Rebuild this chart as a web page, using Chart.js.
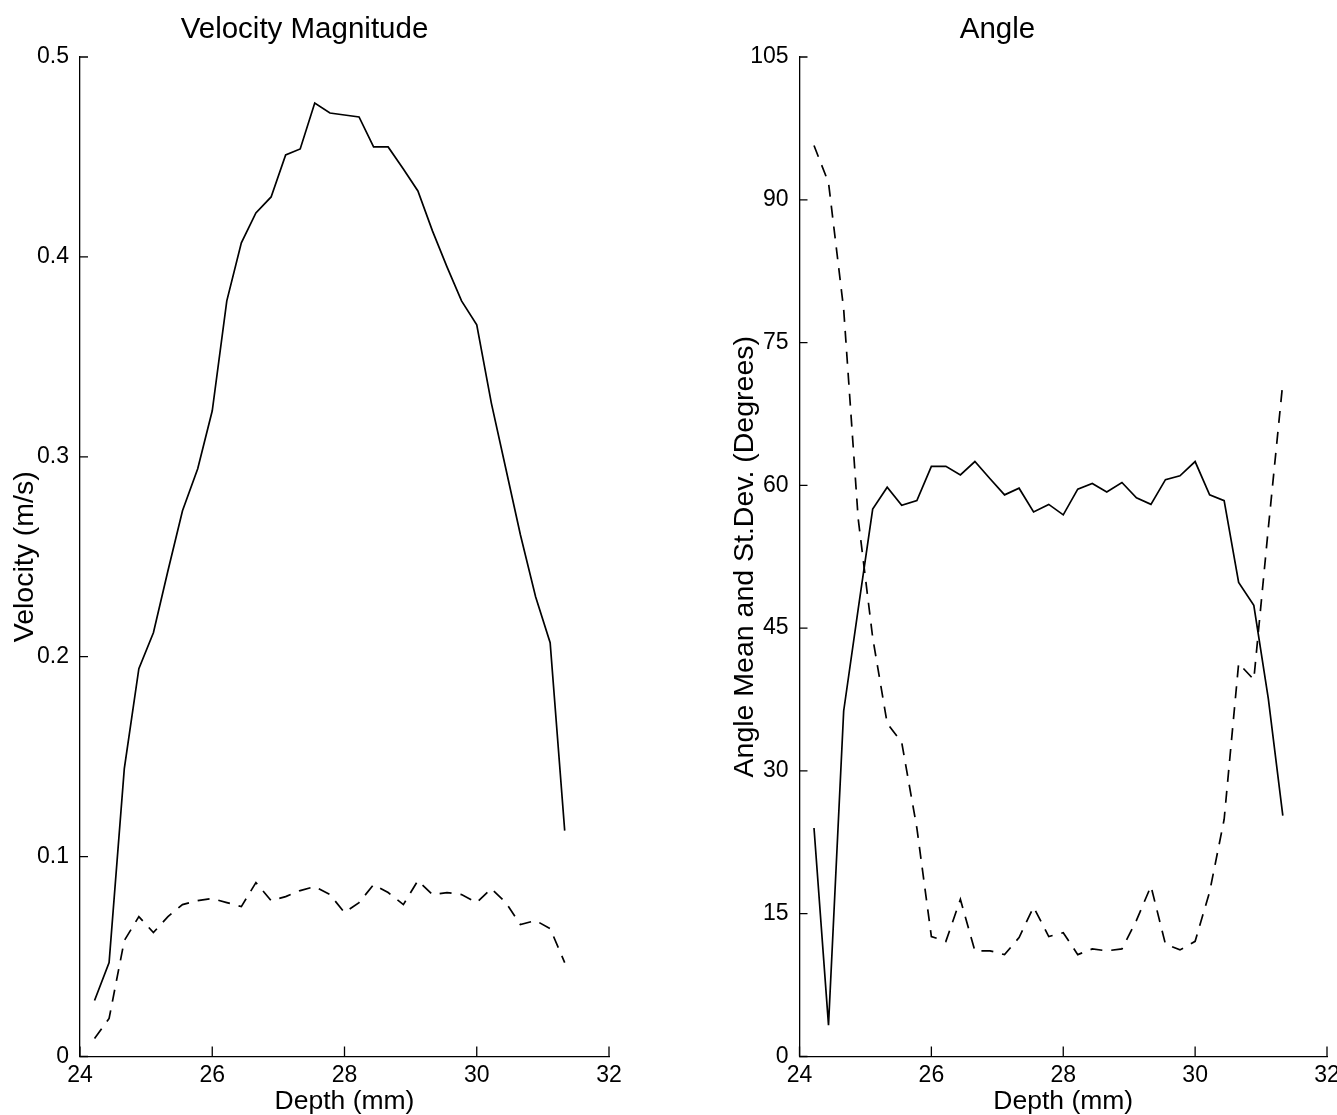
<!DOCTYPE html>
<html lang="en">
<head>
  <meta charset="UTF-8">
  <title>Velocity Magnitude and Angle</title>
  <script src="https://cdn.jsdelivr.net/npm/chart.js"></script>
  <style>
    body { margin: 0; background: #fff; overflow: hidden; }
    canvas { position: absolute; top: 0; }
    #velChart { left: 0; }
    #angleChart { left: 668px; }
  </style>
</head>
<body>
  <canvas id="velChart" width="668" height="1115"></canvas>
  <canvas id="angleChart" width="669" height="1115"></canvas>

  <script>
    // depth samples (mm), shared by both panels
    const depth = [24.22, 24.44, 24.67, 24.89, 25.11, 25.33, 25.55, 25.78, 26.00, 26.22, 26.44,
                   26.66, 26.89, 27.11, 27.33, 27.55, 27.78, 28.00, 28.22, 28.44, 28.66, 28.89,
                   29.11, 29.33, 29.55, 29.77, 30.00, 30.22, 30.44, 30.66, 30.89, 31.11, 31.33];

    // velocity magnitude (m/s): mean (solid) and st.dev (dashed)
    const velMean = [0.028, 0.047, 0.144, 0.194, 0.212, 0.243, 0.273, 0.294, 0.323, 0.378, 0.407,
                     0.422, 0.430, 0.451, 0.454, 0.477, 0.472, 0.471, 0.470, 0.455, 0.455, 0.444,
                     0.433, 0.413, 0.395, 0.378, 0.366, 0.327, 0.294, 0.261, 0.230, 0.207, 0.113];
    const velStd = [0.009, 0.019, 0.058, 0.070, 0.062, 0.070, 0.076, 0.078, 0.079, 0.077, 0.075,
                    0.087, 0.078, 0.080, 0.083, 0.085, 0.081, 0.072, 0.077, 0.086, 0.082, 0.076,
                    0.088, 0.081, 0.082, 0.081, 0.077, 0.084, 0.077, 0.066, 0.068, 0.064, 0.047];

    // angle (degrees): mean (solid) and st.dev (dashed)
    const angleMean = [24.0, 3.3, 36.3, 47.0, 57.5, 59.8, 57.9, 58.4, 62.0, 62.0, 61.1,
                       62.5, 60.7, 59.0, 59.7, 57.2, 58.0, 56.9, 59.6, 60.2, 59.3, 60.3,
                       58.7, 58.0, 60.6, 61.0, 62.5, 59.0, 58.4, 49.8, 47.4, 37.6, 25.3];
    const angleStd = [95.7, 91.8, 78.5, 56.5, 44.0, 35.0, 33.0, 24.0, 12.6, 12.1, 16.5,
                      11.1, 11.1, 10.7, 12.5, 15.7, 12.6, 13.0, 10.7, 11.3, 11.1, 11.3,
                      14.3, 17.9, 11.8, 11.2, 12.1, 17.3, 24.9, 41.3, 39.6, 55.5, 70.8];

    const depthTicks = [24, 26, 28, 30, 32];
    const velTicks = [0, 0.1, 0.2, 0.3, 0.4, 0.5];
    const angleTicks = [0, 15, 30, 45, 60, 75, 90, 105];

    const FONT = '"Liberation Sans", Arial, Helvetica, sans-serif';

    function pts(ys) {
      return depth.map((d, i) => ({ x: d, y: ys[i] }));
    }

    // matlab style tick marks pointing into the plot
    const inwardTicks = {
      id: 'inwardTicks',
      afterDraw(chart) {
        const ctx = chart.ctx;
        const xs = chart.scales.x, ys = chart.scales.y;
        ctx.save();
        ctx.strokeStyle = '#000';
        ctx.lineWidth = 1.3;
        ctx.beginPath();
        xs.ticks.forEach(t => {
          const px = xs.getPixelForValue(t.value);
          ctx.moveTo(px, xs.top);
          ctx.lineTo(px, xs.top - 10);
        });
        ys.ticks.forEach(t => {
          const py = ys.getPixelForValue(t.value);
          ctx.moveTo(ys.right, py);
          ctx.lineTo(ys.right + 8, py);
        });
        ctx.stroke();
        ctx.restore();
      }
    };

    function makeChart(id, title, yTitle, mean, std, yTickVals, yAxisWidth, yTitlePad, padRight) {
      const ctx = document.getElementById(id).getContext('2d');
      return new Chart(ctx, {
        type: 'line',
        data: {
          datasets: [{
            data: pts(mean),
            borderColor: '#000',
            borderWidth: 1.7,
            pointRadius: 0,
            tension: 0,
            fill: false
          }, {
            data: pts(std),
            borderColor: '#000',
            borderWidth: 1.7,
            borderDash: [12, 9],
            pointRadius: 0,
            tension: 0,
            fill: false
          }]
        },
        options: {
          responsive: false,
          animation: false,
          devicePixelRatio: 1,
          layout: { padding: { left: 0, right: padRight, top: 0, bottom: 0 } },
          plugins: {
            legend: { display: false },
            tooltip: { enabled: false },
            title: {
              display: true,
              text: title,
              color: '#000',
              font: { family: FONT, size: 29.5, weight: 'normal' },
              padding: { top: 12.3, bottom: 9.3 }
            }
          },
          scales: {
            x: {
              type: 'linear',
              min: 24,
              max: 32,
              afterBuildTicks: s => { s.ticks = depthTicks.map(v => ({ value: v })); },
              afterFit: s => { s.height = 58.5; s.paddingLeft = 0; s.paddingRight = 0; },
              border: { display: true, color: '#000', width: 1.3 },
              grid: { display: true, drawOnChartArea: false, drawTicks: false },
              ticks: {
                color: '#000',
                padding: 5,
                maxRotation: 0,
                font: { family: FONT, size: 23 }
              },
              title: {
                display: true,
                text: 'Depth (mm)',
                color: '#000',
                font: { family: FONT, size: 26.5, lineHeight: 1 },
                padding: { top: 0, bottom: 0 }
              }
            },
            y: {
              type: 'linear',
              min: yTickVals[0],
              max: yTickVals[yTickVals.length - 1],
              afterBuildTicks: s => { s.ticks = yTickVals.map(v => ({ value: v })); },
              afterFit: s => { s.width = yAxisWidth; s.paddingTop = 0; s.paddingBottom = 0; },
              border: { display: true, color: '#000', width: 1.3 },
              grid: { display: true, drawOnChartArea: false, drawTicks: false },
              ticks: {
                color: '#000',
                padding: 11,
                font: { family: FONT, size: 23 }
              },
              title: {
                display: true,
                text: yTitle,
                color: '#000',
                font: { family: FONT, size: 28.5, lineHeight: 1 },
                padding: { top: yTitlePad, bottom: 0 }
              }
            }
          }
        },
        plugins: [inwardTicks]
      });
    }

    makeChart('velChart', 'Velocity Magnitude', 'Velocity (m/s)',
              velMean, velStd, velTicks, 80, 10.75, 59);
    makeChart('angleChart', 'Angle', 'Angle Mean and St.Dev. (Degrees)',
              angleMean, angleStd, angleTicks, 131.5, 62.75, 10);
  </script>
</body>
</html>
